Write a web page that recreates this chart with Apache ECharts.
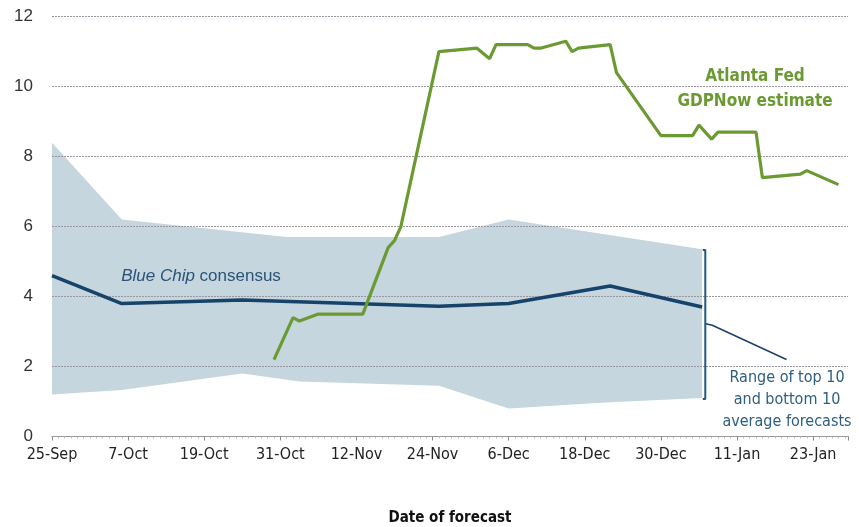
<!DOCTYPE html>
<html>
<head>
<meta charset="utf-8">
<script src="https://cdn.jsdelivr.net/npm/echarts@6/dist/echarts.min.js"></script>
<style>
html,body{margin:0;padding:0;background:#fff;}
#chart{width:859px;height:527px;}
</style>
</head>
<body>
<div id="chart"></div>
<script>
// x values are days since 25-Sep
var tickLabels = ['25-Sep','7-Oct','19-Oct','31-Oct','12-Nov','24-Nov','6-Dec','18-Dec','30-Dec','11-Jan','23-Jan'];
var yTicks = [0,2,4,6,8,10,12];

var bandTop = [[0,8.4],[11,6.2],[37,5.7],[61,5.7],[72,6.2],[102.5,5.35]];
var bandBottom = [[0,1.2],[11,1.33],[30,1.8],[39,1.57],[61,1.45],[72,0.8],[88,0.98],[102.5,1.1]];
var consensus = [[0,4.6],[11,3.8],[30,3.9],[61,3.72],[72,3.8],[88,4.3],[102.5,3.7]];
var gdpNow = [[35,2.2],[38,3.4],[39,3.3],[42,3.5],[49,3.5],[53,5.4],[54,5.6],[55,6.0],[61,11.0],
  [67,11.1],[69,10.8],[70,11.2],[75,11.2],[76,11.1],[77,11.1],[81,11.3],[82,11.0],[83,11.1],
  [88,11.2],[89,10.4],[96,8.6],[101,8.6],[102,8.9],[104,8.5],[105,8.7],[111,8.7],[112,7.4],
  [118,7.5],[119,7.6],[124,7.2]];
var bracket = [[102.6,5.33],[103,5.33],[103,1.07],[102.6,1.07]];
var pointer = [[103.1,3.22],[104.1,3.18],[115.8,2.2]];

var narrow = "'Liberation Sans Narrow','Arial Narrow','DejaVu Sans Condensed',sans-serif";
var chart = echarts.init(document.getElementById('chart'));
chart.setOption({
  animation:false,
  backgroundColor:'#fff',
  grid:{left:52,right:11,top:16.7,bottom:90.5,containLabel:false,outerBoundsMode:'none'},
  xAxis:{
    type:'value',min:0,max:125.5,interval:12,
    axisLine:{show:true,lineStyle:{color:'#999',width:1}},
    axisTick:{show:true,length:4,lineStyle:{color:'#888'}},
    minorTick:{show:true,splitNumber:12,length:2,lineStyle:{color:'#bbb'}},
    splitLine:{show:false},
    axisLabel:{showMaxLabel:false,margin:10,fontSize:16,color:'#222',fontFamily:narrow,
      formatter:function(v){return (v%12===0 && tickLabels[v/12]!==undefined)?tickLabels[v/12]:'';}},
    name:'Date of forecast',nameLocation:'middle',nameGap:74,
    nameTextStyle:{fontSize:15,fontWeight:'bold',color:'#111',fontFamily:narrow}
  },
  yAxis:{
    type:'value',min:0,max:12,interval:2,
    axisLine:{show:false},axisTick:{show:false},
    axisLabel:{margin:19,fontSize:17,color:'#333',fontFamily:"'Liberation Sans',sans-serif",
      formatter:function(v){return yTicks.indexOf(v)>=0?String(v):'';}},
    splitLine:{show:true,lineStyle:{color:'#9a96a0',width:1,type:[2,1]}}
  },
  series:[
    {
      type:'custom',z:-1,silent:true,
      data:[[0,0]],
      renderItem:function(params,api){
        var pts=[];
        bandTop.forEach(function(p){pts.push(api.coord(p));});
        for(var i=bandBottom.length-1;i>=0;i--){pts.push(api.coord(bandBottom[i]));}
        return {type:'polygon',shape:{points:pts},style:{fill:'#c5d6de',stroke:null}};
      }
    },
    {
      type:'line',data:consensus,symbol:'none',silent:true,z:3,
      lineStyle:{color:'#17426a',width:3.5}
    },
    {
      type:'line',data:gdpNow,symbol:'none',silent:true,z:4,
      lineStyle:{color:'#6b9a33',width:3.2}
    },
    {
      type:'line',data:bracket,symbol:'none',silent:true,z:4,
      lineStyle:{color:'#1f5a7a',width:2}
    },
    {
      type:'line',data:pointer,symbol:'none',silent:true,z:4,
      lineStyle:{color:'#1d3f6b',width:1.5}
    }
  ],
  graphic:[
    {type:'text',x:201,y:276,silent:true,
      style:{text:'{i|Blue Chip} consensus',textAlign:'center',textVerticalAlign:'middle',
        fontSize:17,fill:'#2b5377',fontFamily:"'Liberation Sans',sans-serif",
        rich:{i:{fontStyle:'italic',fontSize:17,fill:'#2b5377',fontFamily:"'Liberation Sans',sans-serif"}}}},
    {type:'text',x:755,y:89,silent:true,
      style:{text:'Atlanta Fed\nGDPNow estimate',textAlign:'center',textVerticalAlign:'middle',
        fontSize:17,fontWeight:'bold',lineHeight:25,fill:'#6b9a33',fontFamily:narrow}},
    {type:'text',x:787,y:400,silent:true,
      style:{text:'Range of top 10\nand bottom 10\naverage forecasts',textAlign:'center',textVerticalAlign:'middle',
        fontSize:16,lineHeight:22,fill:'#2c5f80',fontFamily:narrow}}
  ]
});
</script>
</body>
</html>
